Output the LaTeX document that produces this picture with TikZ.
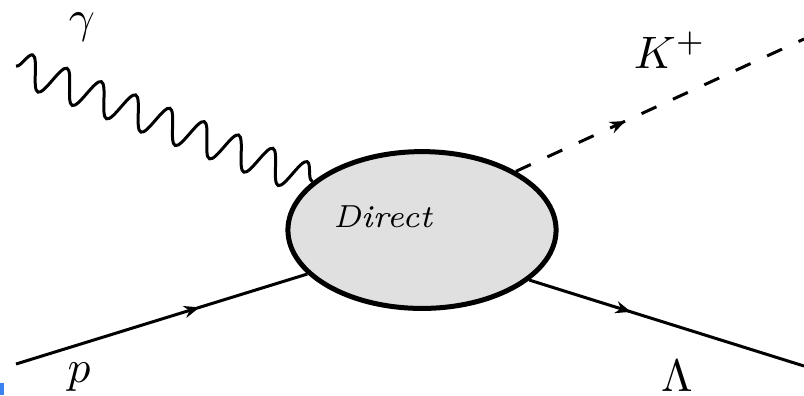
\documentclass[tikz,border=0pt]{standalone}
\usetikzlibrary{arrows.meta, decorations.pathmorphing, decorations.markings, shapes.geometric}
\definecolor{markblue}{RGB}{58,130,240}

\begin{document}
\begin{tikzpicture}[x=0.22pt, y=-0.22pt, line width=0.66pt, >={Stealth[length=3.4pt, width=2.7pt]}]
	\tikzset{blob/.style={ellipse, draw, line width=1.1pt, fill=black!12, minimum width=59pt, minimum height=34.5pt, inner sep=0pt}}
	\tikzset{photon/.style={decorate, decoration={snake, amplitude=3.6pt, segment length=8.1pt}}}
	\tikzset{fermion/.style={postaction={decorate}, decoration={markings, mark=at position #1 with {\arrow{>}}}}, fermion/.default=0.5}
	\tikzset{scalar/.style={dash pattern=on 3.6pt off 4pt}}
	\tikzset{lbl/.style={inner sep=0pt, anchor=base}}
	
	\useasboundingbox (0,0) rectangle (804,395);
	
	\node[blob] (blob) at (422,230) {};
	\node[lbl, font=\scriptsize] (direct) at (383,227) {\textit{Direct}};
	
	\coordinate (gin) at (16,66);
	\coordinate (pin) at (16,364);
	\coordinate (kout) at (804,39);
	\coordinate (lout) at (804,366);
	
	\draw[photon] (gin) -- (blob.156);
	\draw[fermion=0.63] (pin) -- (blob.201);
	\draw[scalar, fermion=0.38] (blob.32) -- (kout);
	\draw[fermion=0.37] (blob.335) -- (lout);
	
	\node[lbl] (gamma) at (82,32) {$\gamma$};
	\node[lbl] (kaon) at (670,68) {$K^+$};
	\node[lbl] (proton) at (79,382) {$p$};
	\node[lbl] (lambda) at (677,391) {$\Lambda$};
	
	% small blue mark in the lower left corner
	\fill[markblue] (0,383) rectangle (4,395);
\end{tikzpicture}
\end{document}
